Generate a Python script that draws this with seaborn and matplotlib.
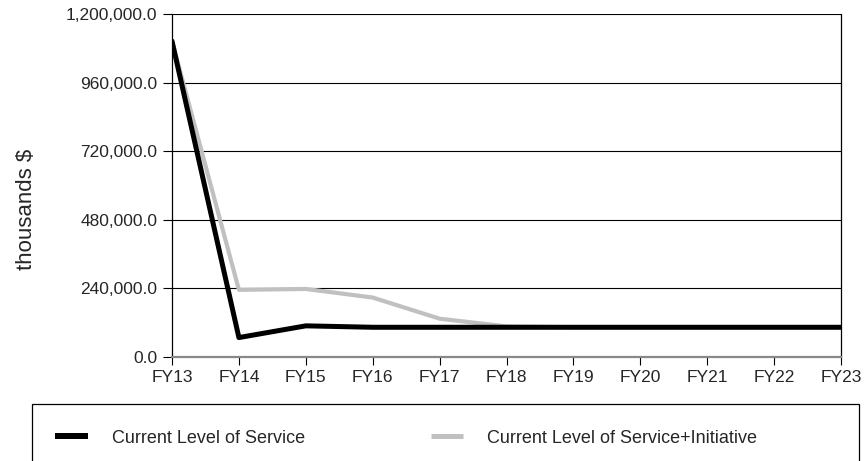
import matplotlib
matplotlib.use("Agg")
import matplotlib.pyplot as plt
import matplotlib.ticker as mticker
from matplotlib.lines import Line2D
from matplotlib.patches import Rectangle
import pandas as pd
import seaborn as sns

years = ["FY13", "FY14", "FY15", "FY16", "FY17", "FY18", "FY19", "FY20", "FY21", "FY22", "FY23"]
current_service = [1105000, 68000, 109000, 104000, 104000, 104000, 104000, 104000, 104000, 104000, 104000]
service_initiative = [1105000, 235000, 238000, 208000, 134000, 107000, 104000, 104000, 104000, 104000, 104000]
series_names = ["Current Level of Service", "Current Level of Service+Initiative"]
colors = {"Current Level of Service": "#000000",
          "Current Level of Service+Initiative": "#c0c0c0"}
widths = {"Current Level of Service": 3.6,
          "Current Level of Service+Initiative": 3.0}

df = pd.DataFrame({
    "year": years * 2,
    "value": current_service + service_initiative,
    "series": [series_names[0]] * len(years) + [series_names[1]] * len(years),
})
df["x"] = df["year"].map({y: i for i, y in enumerate(years)})

sns.set_style("white")
plt.rcParams["font.family"] = ["Liberation Sans", "DejaVu Sans"]

fig = plt.figure(figsize=(8.67, 4.61), dpi=100)
ax = fig.add_axes([172 / 867, 1 - 357 / 461, (841 - 172) / 867, (357 - 14) / 461])

# light series first so the dark one sits on top
for name in reversed(series_names):
    sns.lineplot(data=df[df["series"] == name], x="x", y="value",
                 color=colors[name], lw=widths[name], ax=ax, legend=False)

ax.set_xlim(0, len(years) - 1)
ax.set_ylim(0, 1200000)
ax.set_yticks([0, 240000, 480000, 720000, 960000, 1200000])
ax.yaxis.set_major_formatter(mticker.FuncFormatter(lambda v, p: f"{v:,.1f}"))
ax.set_xticks(range(len(years)))
ax.set_xticklabels(years)
ax.grid(axis="y", color="black", lw=0.8)
ax.set_axisbelow(True)
ax.set_xlabel("")
ax.set_ylabel("thousands $", fontsize=16)
ax.yaxis.set_label_coords((37 - 172) / 669, (357 - 209) / 343)

for s in ["left", "right"]:
    ax.spines[s].set_visible(True)
    ax.spines[s].set_color("black")
    ax.spines[s].set_linewidth(0.9)
ax.spines["top"].set_visible(False)
ax.spines["bottom"].set_visible(True)
ax.spines["bottom"].set_color("#888888")
ax.spines["bottom"].set_linewidth(1.6)

ax.tick_params(axis="both", which="major", direction="out", length=6.5, width=0.8,
               color="black", labelsize=12.5, left=True, bottom=True, pad=4)
ax.tick_params(axis="x", length=6, pad=3)

# legend box along the bottom of the figure
fig.patches.append(Rectangle((32 / 867, -0.05), (859 - 32) / 867, 0.05 + 1 - 404 / 461,
                             transform=fig.transFigure, fill=False, edgecolor="black",
                             lw=0.9))
leg_y = 1 - 438 / 461
fs = 13
em = fs * 100 / 72
for name, x0, x1, xt in [(series_names[0], 55, 88, 112), (series_names[1], 431, 463, 487)]:
    h = Line2D([], [], color=colors[name], lw=widths[name] * 1.2, solid_capstyle="butt")
    fig.legend([h], [name], loc="center left", bbox_to_anchor=(x0 / 867, leg_y),
               frameon=False, fontsize=fs, borderpad=0, borderaxespad=0,
               handlelength=(x1 - x0) / em, handletextpad=(xt - x1) / em)

fig.savefig("out.png", dpi=100)
